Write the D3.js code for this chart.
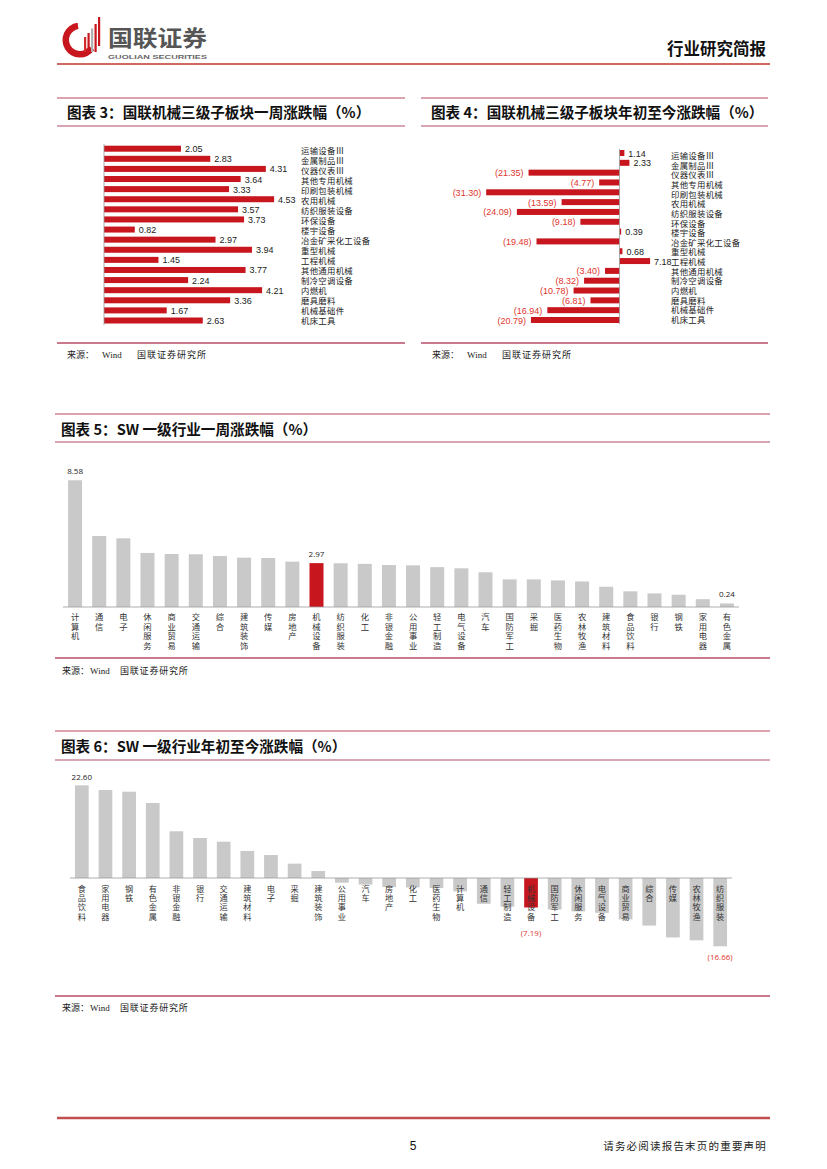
<!DOCTYPE html>
<html><head><meta charset="utf-8">
<script src="https://cdn.jsdelivr.net/npm/d3@7/dist/d3.min.js"></script>
<style>
html,body{margin:0;padding:0;background:#fff;}
svg{display:block;}
</style></head>
<body>
<script>
// ---------- DATA ----------
const subCats = ["运输设备Ⅲ","金属制品Ⅲ","仪器仪表Ⅲ","其他专用机械","印刷包装机械","农用机械","纺织服装设备","环保设备","楼宇设备","冶金矿采化工设备","重型机械","工程机械","其他通用机械","制冷空调设备","内燃机","磨具磨料","机械基础件","机床工具"];
const subWeek = [2.05,2.83,4.31,3.64,3.33,4.53,3.57,3.73,0.82,2.97,3.94,1.45,3.77,2.24,4.21,3.36,1.67,2.63];
const subYtd = [1.14,2.33,-21.35,-4.77,-31.30,-13.59,-24.09,-9.18,0.39,-19.48,0.68,7.18,-3.40,-8.32,-10.78,-6.81,-16.94,-20.79];

const swWeekCats = ["计算机","通信","电子","休闲服务","商业贸易","交通运输","综合","建筑装饰","传媒","房地产","机械设备","纺织服装","化工","非银金融","公用事业","轻工制造","电气设备","汽车","国防军工","采掘","医药生物","农林牧渔","建筑材料","食品饮料","银行","钢铁","家用电器","有色金属"];
const swWeekVals = [8.58,4.81,4.65,3.66,3.59,3.57,3.45,3.34,3.32,3.07,2.97,2.96,2.92,2.84,2.82,2.70,2.62,2.35,1.87,1.87,1.80,1.73,1.37,1.06,0.92,0.83,0.53,0.24];
const swWeekLabeled = ["计算机","机械设备","有色金属"];

const swYtdCats = ["食品饮料","家用电器","钢铁","有色金属","非银金融","银行","交通运输","建筑材料","电子","采掘","建筑装饰","公用事业","汽车","房地产","化工","医药生物","计算机","通信","轻工制造","机械设备","国防军工","休闲服务","电气设备","商业贸易","综合","传媒","农林牧渔","纺织服装"];
const swYtdVals = [22.60,21.45,21.05,18.30,11.40,9.76,8.86,6.60,5.60,3.50,1.70,-1.14,-1.60,-2.20,-2.30,-2.45,-3.26,-6.30,-7.00,-7.19,-7.67,-8.15,-8.50,-10.10,-11.60,-14.50,-15.20,-16.66];
const swYtdLabeled = ["食品饮料","机械设备","纺织服装"];
const highlight = "机械设备";

const titles = ["图表 3：国联机械三级子板块一周涨跌幅（%）","图表 4：国联机械三级子板块年初至今涨跌幅（%）","图表 5：SW 一级行业一周涨跌幅（%）","图表 6：SW 一级行业年初至今涨跌幅（%）"];

// ---------- STYLE ----------
const RED = "#c8161e", GREY = "#c9c9c9", NEG = "#e0352e";
const CJK = "'Noto Sans CJK SC','Noto Sans',sans-serif";
const CJK_TIGHT = "'Liberation Sans','Noto Sans CJK SC',sans-serif";
const NUM = "'Liberation Sans',Arial,sans-serif";
const fmt = v => v < 0 ? "(" + Math.abs(v).toFixed(2) + ")" : v.toFixed(2);

const svg = d3.select("body").append("svg").attr("width",827).attr("height",1169);
svg.append("rect").attr("width",827).attr("height",1169).attr("fill","#fff");

// ---------- HEADER ----------
const logo = svg.append("g");
const ring = d3.arc().innerRadius(11).outerRadius(17.5).startAngle(125*Math.PI/180).endAngle(352*Math.PI/180);
logo.append("path").attr("transform","translate(80,40)").attr("d",ring()).attr("fill",RED);
[[84,37,"#d42a2a"],[87.5,33,"#c8161e"],[91,28.5,"#b0b0b0"],[94.5,24,"#c8161e"],[98,17,"#c8161e"]].forEach(r=>{
  const bottom = r[0] < 95 ? 52 : 46;
  logo.append("rect").attr("x",r[0]).attr("y",r[1]).attr("width",2.2).attr("height",bottom-r[1]).attr("fill",r[2]);
});
logo.append("text").attr("x",108).attr("y",46).attr("font-family",CJK).attr("font-weight",700)
  .attr("font-size",22).attr("fill","#555").attr("textLength",99).attr("lengthAdjust","spacingAndGlyphs").text("国联证券");
logo.append("text").attr("x",108).attr("y",58.5).attr("font-family",NUM).attr("font-weight",700)
  .attr("font-size",6).attr("fill","#666").attr("textLength",99).attr("lengthAdjust","spacingAndGlyphs").text("GUOLIAN SECURITIES");
svg.append("text").attr("x",766).attr("y",55).attr("text-anchor","end").attr("font-family",CJK)
  .attr("font-weight",700).attr("font-size",16.5).attr("fill","#111").text("行业研究简报");
svg.append("line").attr("x1",57).attr("x2",770).attr("y1",64).attr("y2",64).attr("stroke","#c0392b").attr("stroke-width",1.5);

// ---------- FOOTER ----------
svg.append("line").attr("x1",57).attr("x2",770).attr("y1",1118).attr("y2",1118).attr("stroke","#c0504d").attr("stroke-width",2.5);
svg.append("text").attr("x",413).attr("y",1150).attr("text-anchor","middle").attr("font-family",NUM).attr("font-size",12).attr("fill","#111").text("5");
svg.append("text").attr("x",767).attr("y",1150).attr("text-anchor","end").attr("font-family",CJK).attr("font-size",10.5)
  .attr("letter-spacing",1.2).attr("fill","#222").text("请务必阅读报告末页的重要声明");

// ---------- helpers ----------
function titleBlock(x1,x2,yTop,yBot,tx,ty,text){
  svg.append("line").attr("x1",x1).attr("x2",x2).attr("y1",yTop).attr("y2",yTop).attr("stroke","#b8485e").attr("stroke-width",1.2);
  svg.append("line").attr("x1",x1).attr("x2",x2).attr("y1",yBot).attr("y2",yBot).attr("stroke","#c98a99").attr("stroke-width",1.5);
  svg.append("text").attr("x",tx).attr("y",ty).attr("font-family",CJK).attr("font-weight",700).attr("font-size",14.6)
    .attr("fill","#111").text(text);
}
function sourceBlock(x1,x2,yLine,tx,ty,wide){
  svg.append("line").attr("x1",x1).attr("x2",x2).attr("y1",yLine).attr("y2",yLine).attr("stroke","#c97a8d").attr("stroke-width",1.8);
  const g = svg.append("g").attr("font-family",CJK).attr("font-size",9).attr("fill","#222");
  if(wide){
    g.append("text").attr("x",tx).attr("y",ty).text("来源：");
    g.append("text").attr("x",tx+35).attr("y",ty).attr("font-family","'Liberation Serif',serif").text("Wind");
    g.append("text").attr("x",tx+70).attr("y",ty).attr("letter-spacing",1).text("国联证券研究所");
  } else {
    g.append("text").attr("x",tx).attr("y",ty).text("来源：");
    g.append("text").attr("x",tx+28).attr("y",ty).attr("font-family","'Liberation Serif',serif").text("Wind");
    g.append("text").attr("x",tx+58).attr("y",ty).attr("letter-spacing",0.8).text("国联证券研究所");
  }
}
function vertLabel(g,x,yFirst,text,lh){
  [...text].forEach((ch,i)=>{
    g.append("text").attr("x",x).attr("y",yFirst+i*lh).attr("text-anchor","middle").text(ch);
  });
}

// ---------- CHART 3 ----------
titleBlock(57,405,98,126,67,118,titles[0]);
{
  const x = d3.scaleLinear().domain([0,5]).range([104,104+5*37.55]);
  const y = d3.scalePoint().domain(subCats).range([148.7,320.5]);
  const yl = d3.scalePoint().domain(subCats).range([151,320.5]);
  const g = svg.append("g");
  g.selectAll("rect").data(subWeek).join("rect")
    .attr("x",x(0)).attr("y",(d,i)=>y(subCats[i])-3).attr("width",d=>x(d)-x(0)).attr("height",6).attr("fill",RED);
  g.append("line").attr("x1",x(0)).attr("x2",x(0)).attr("y1",144).attr("y2",325).attr("stroke","#999").attr("stroke-width",0.8);
  g.selectAll(".v").data(subWeek).join("text").attr("class","v")
    .attr("x",d=>x(d)+4).attr("y",(d,i)=>y(subCats[i])+3.5).attr("font-family",NUM).attr("font-size",9).attr("fill","#222").text(fmt);
  g.selectAll(".c").data(subCats).join("text").attr("class","c")
    .attr("x",301).attr("y",d=>yl(d)+3).attr("font-family",CJK_TIGHT).attr("font-size",8.4).attr("letter-spacing",0.3).attr("fill","#222").text(d=>d);
}
sourceBlock(57,405,343,67,358,true);

// ---------- CHART 4 ----------
titleBlock(421,768,98,126,431,118,titles[1]);
{
  const x = d3.scaleLinear().domain([-35,10]).range([619.5-35*4.26,619.5+10*4.26]);
  const y = d3.scalePoint().domain(subCats).range([153,320]);
  const yl = d3.scalePoint().domain(subCats).range([156,320]);
  const g = svg.append("g");
  g.selectAll("rect").data(subYtd).join("rect")
    .attr("x",d=>x(Math.min(0,d))).attr("y",(d,i)=>y(subCats[i])-3).attr("width",d=>Math.abs(x(d)-x(0))).attr("height",6).attr("fill",RED);
  g.append("line").attr("x1",x(0)).attr("x2",x(0)).attr("y1",149).attr("y2",324).attr("stroke","#999").attr("stroke-width",0.8);
  g.selectAll(".v").data(subYtd).join("text").attr("class","v")
    .attr("x",d=>d<0 ? x(d)-5 : x(d)+4).attr("text-anchor",d=>d<0?"end":"start")
    .attr("y",(d,i)=>y(subCats[i])+3.5).attr("font-family",NUM).attr("font-size",9)
    .attr("fill",d=>d<0?NEG:"#222").text(fmt);
  g.selectAll(".c").data(subCats).join("text").attr("class","c")
    .attr("x",671).attr("y",d=>yl(d)+3).attr("font-family",CJK_TIGHT).attr("font-size",8.4).attr("letter-spacing",0.3).attr("fill","#222").text(d=>d);
}
sourceBlock(421,768,343,432,358,true);

// ---------- CHART 5 ----------
titleBlock(55,770,414,442,61,435,titles[2]);
{
  const x = d3.scaleBand().domain(swWeekCats).range([63,739]).paddingInner(0.42).paddingOuter(0.21);
  const y = d3.scaleLinear().domain([0,10]).range([607,607-147.7]);
  const g = svg.append("g");
  g.selectAll("rect").data(swWeekVals).join("rect")
    .attr("x",(d,i)=>x(swWeekCats[i])).attr("width",x.bandwidth())
    .attr("y",d=>y(d)).attr("height",d=>y(0)-y(d))
    .attr("fill",(d,i)=>swWeekCats[i]===highlight?RED:GREY);
  g.append("line").attr("x1",63).attr("x2",739).attr("y1",y(0)).attr("y2",y(0)).attr("stroke","#999").attr("stroke-width",0.8);
  swWeekCats.forEach((c,i)=>{
    if(swWeekLabeled.includes(c)){
      g.append("text").attr("x",x(c)+x.bandwidth()/2).attr("y",y(swWeekVals[i])-6).attr("text-anchor","middle")
        .attr("font-family","'Open Sans',sans-serif").attr("font-size",8).attr("fill","#222").text(fmt(swWeekVals[i]));
    }
  });
  const lg = g.append("g").attr("font-family",CJK_TIGHT).attr("font-size",8.3).attr("fill","#333");
  swWeekCats.forEach(c=>vertLabel(lg,x(c)+x.bandwidth()/2,620,c,9.5));
}
sourceBlock(55,770,658,62,674,false);

// ---------- CHART 6 ----------
titleBlock(55,770,731,760,61,752,titles[3]);
{
  const x = d3.scaleBand().domain(swYtdCats).range([70,732]).paddingInner(0.42).paddingOuter(0.21);
  const y = d3.scaleLinear().domain([-20,25]).range([878+20*4.1,878-25*4.1]);
  const g = svg.append("g");
  g.selectAll("rect").data(swYtdVals).join("rect")
    .attr("x",(d,i)=>x(swYtdCats[i])).attr("width",x.bandwidth())
    .attr("y",d=>y(Math.max(0,d))).attr("height",d=>Math.abs(y(d)-y(0)))
    .attr("fill",(d,i)=>swYtdCats[i]===highlight?RED:GREY);
  g.append("line").attr("x1",70).attr("x2",732).attr("y1",y(0)).attr("y2",y(0)).attr("stroke","#999").attr("stroke-width",0.8);
  const lg = g.append("g").attr("font-family",CJK_TIGHT).attr("font-size",8.2).attr("fill","#333");
  swYtdCats.forEach(c=>vertLabel(lg,x(c)+x.bandwidth()/2,891.5,c,9.4));
  swYtdCats.forEach((c,i)=>{
    if(swYtdLabeled.includes(c)){
      const v = swYtdVals[i];
      const yy = v>=0 ? y(v)-5 : Math.max(y(v),922)+14;
      g.append("text").attr("x",x(c)+x.bandwidth()/2).attr("y",yy).attr("text-anchor","middle")
        .attr("font-family","'Open Sans',sans-serif").attr("font-size",8).attr("fill",v<0?NEG:"#222").text(fmt(v));
    }
  });
}
sourceBlock(55,770,996,62,1011,false);
</script>
</body></html>
